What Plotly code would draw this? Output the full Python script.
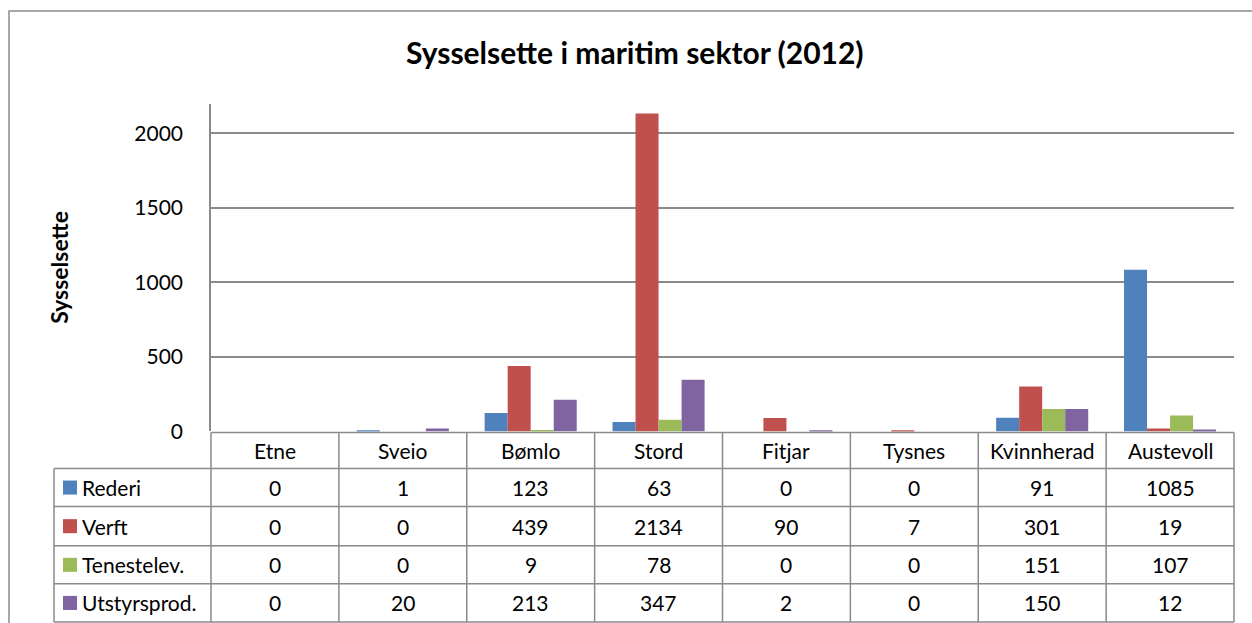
import plotly.graph_objects as go

REF_W, REF_H = 1252, 623
# the captured picture comes out about 2% shorter than the figure; compensate with a taller figure
W, H = 1252, 636

categories = ["Etne", "Sveio", "Bømlo", "Stord", "Fitjar", "Tysnes", "Kvinnherad", "Austevoll"]
series_names = ["Rederi", "Verft", "Tenestelev.", "Utstyrsprod."]
rederi = [0, 1, 123, 63, 0, 0, 91, 1085]
verft = [0, 0, 439, 2134, 90, 7, 301, 19]
tenestelev = [0, 0, 9, 78, 0, 0, 151, 107]
utstyrsprod = [0, 20, 213, 347, 2, 0, 150, 12]
series_values = [rederi, verft, tenestelev, utstyrsprod]
colors = ["#4F81BD", "#C0504D", "#9BBB59", "#8064A2"]
y_ticks = [0, 500, 1000, 1500, 2000]

title_text = "Sysselsette i maritim sektor (2012)"
y_title = "Sysselsette"

FONT = "Lato, Carlito, Calibri, sans-serif"
GRID = "#8a8a8a"
TXT = 21


def px(x):
    return x / REF_W


def py(y):
    return 1 - y / REF_H


# layout geometry (reference pixels)
plot_left, plot_right = 211, 1234
plot_top, plot_bottom = 104, 430
label_left = 54
row_lines = [467, 505, 544, 582, 620]
header_top = 431
col_w = (plot_right - plot_left) / len(categories)

# y range so that 2000 sits at y=133
ymax = 2000 * (plot_bottom - plot_top) / (plot_bottom - 133)

fig = go.Figure()
for name, vals, c in zip(series_names, series_values, colors):
    fig.add_trace(go.Bar(x=categories, y=vals, name=name, marker=dict(color=c, line=dict(width=0)),
                         showlegend=False))

shapes = []
# outer chart border
shapes.append(dict(type="rect", xref="paper", yref="paper", x0=px(9), x1=px(1270), y0=py(660), y1=py(11),
                   line=dict(color="#8c8c8c", width=1.5), layer="below"))
# table horizontal lines
shapes.append(dict(type="line", xref="paper", yref="paper", x0=px(plot_left), x1=px(plot_right),
                   y0=py(header_top), y1=py(header_top), line=dict(color=GRID, width=1.5)))
for yy in row_lines:
    shapes.append(dict(type="line", xref="paper", yref="paper", x0=px(label_left), x1=px(plot_right),
                       y0=py(yy), y1=py(yy), line=dict(color=GRID, width=1.5)))
# vertical lines
shapes.append(dict(type="line", xref="paper", yref="paper", x0=px(label_left), x1=px(label_left),
                   y0=py(row_lines[0]), y1=py(row_lines[-1]), line=dict(color=GRID, width=1.5)))
for k in range(len(categories) + 1):
    xx = plot_left + k * col_w
    shapes.append(dict(type="line", xref="paper", yref="paper", x0=px(xx), x1=px(xx),
                       y0=py(header_top), y1=py(row_lines[-1]), line=dict(color=GRID, width=1.5)))

annotations = []
# header row
for k, cat in enumerate(categories):
    annotations.append(dict(xref="paper", yref="paper", x=px(plot_left + (k + 0.5) * col_w),
                            y=py((header_top + row_lines[0]) / 2), text=cat, showarrow=False,
                            font=dict(family=FONT, size=TXT, color="black"), xanchor="center", yanchor="middle"))
# rows
for r, (name, vals, c) in enumerate(zip(series_names, series_values, colors)):
    yc = (row_lines[r] + row_lines[r + 1]) / 2
    shapes.append(dict(type="rect", xref="paper", yref="paper", x0=px(63), x1=px(77),
                       y0=py(yc + 7), y1=py(yc - 7), fillcolor=c, line=dict(width=0)))
    annotations.append(dict(xref="paper", yref="paper", x=px(80), y=py(yc), text=name, showarrow=False,
                            font=dict(family=FONT, size=TXT, color="black"), xanchor="left", yanchor="middle"))
    for k, v in enumerate(vals):
        annotations.append(dict(xref="paper", yref="paper", x=px(plot_left + (k + 0.5) * col_w), y=py(yc),
                                text=str(v), showarrow=False,
                                font=dict(family=FONT, size=TXT, color="black"), xanchor="center",
                                yanchor="middle"))

# title
annotations.append(dict(xref="paper", yref="paper", x=px(635), y=py(52), text="<b>%s</b>" % title_text,
                        showarrow=False, font=dict(family=FONT, size=30, color="black"),
                        xanchor="center", yanchor="middle"))
# y axis title
annotations.append(dict(xref="paper", yref="paper", x=px(59), y=py(267), text="<b>%s</b>" % y_title,
                        showarrow=False, textangle=-90, font=dict(family=FONT, size=23, color="black"),
                        xanchor="center", yanchor="middle"))

fig.update_layout(
    width=W, height=H,
    margin=dict(l=0, r=0, t=0, b=0),
    paper_bgcolor="white", plot_bgcolor="white",
    barmode="group", bargap=0.28, bargroupgap=0,
    shapes=shapes, annotations=annotations,
    xaxis=dict(domain=[px(plot_left), px(plot_right)], showticklabels=False, showgrid=False,
               zeroline=False, showline=False, ticks=""),
    yaxis=dict(domain=[py(plot_bottom), py(plot_top)], range=[0, ymax], tickvals=y_ticks,
               showgrid=True, gridcolor=GRID, gridwidth=1.5, zeroline=False,
               showline=True, linecolor=GRID, linewidth=1.5, ticks="",
               tickfont=dict(family=FONT, size=TXT, color="black"), ticklabelstandoff=22),
    font=dict(family=FONT),
)

# pin the figure to the window's top-left corner so page margins cannot shift it
post = (
    "var gd=document.getElementById('{plot_id}');"
    "gd.style.position='fixed';gd.style.left='0px';gd.style.top='0px';"
    "document.body.style.margin='0px';"
    "document.documentElement.style.overflow='hidden';document.body.style.overflow='hidden';"
)
fig.write_html("out.html", config={"displayModeBar": False}, post_script=post)
